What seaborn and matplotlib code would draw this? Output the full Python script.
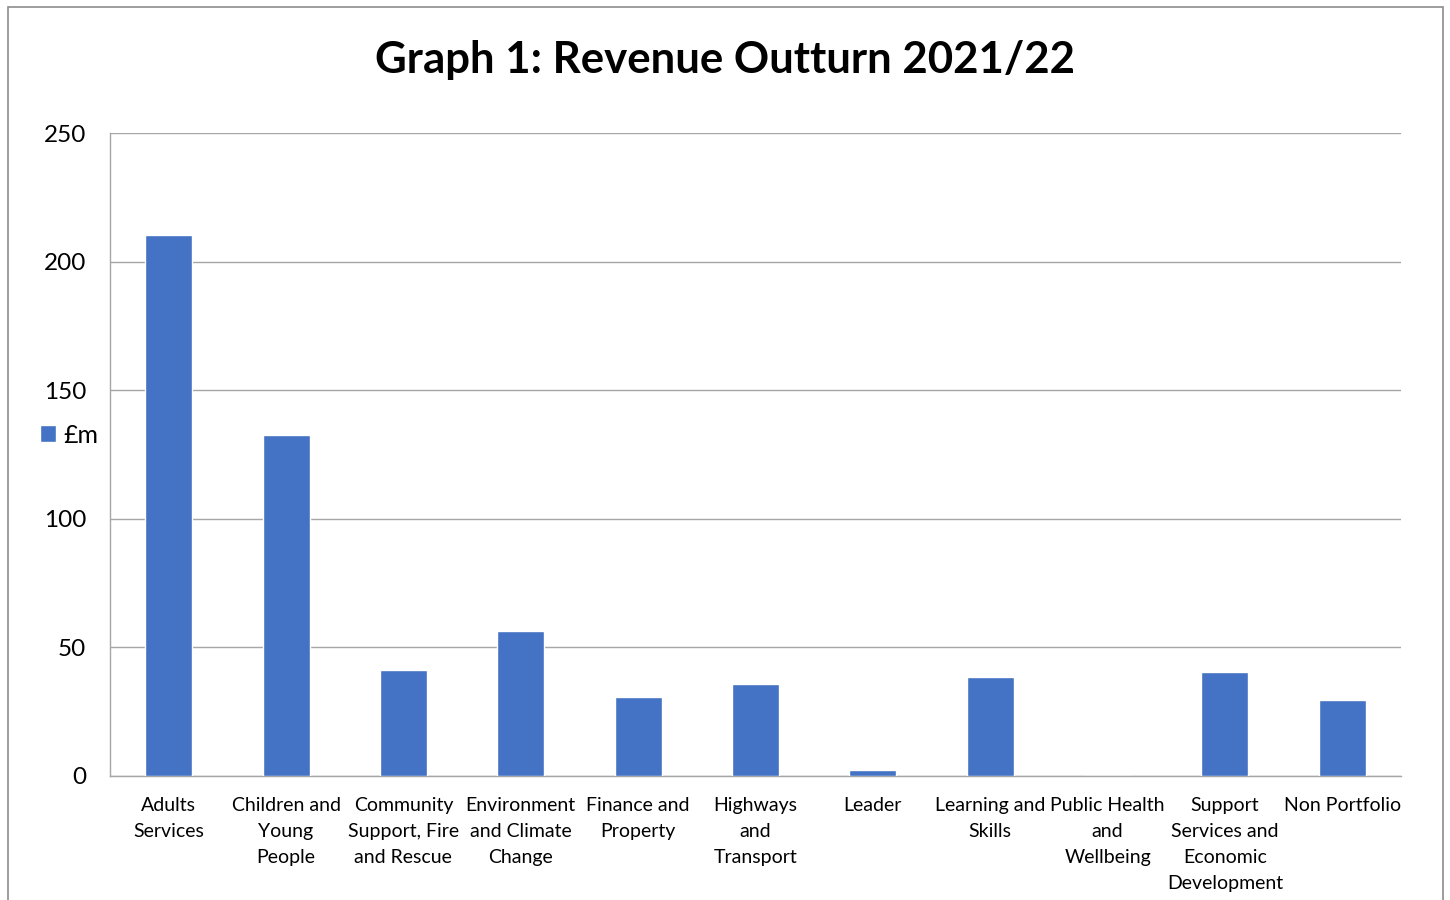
import matplotlib
matplotlib.use("Agg")
import matplotlib.pyplot as plt
import seaborn as sns
import pandas as pd
from matplotlib.patches import Rectangle

categories = ["Adults\nServices", "Children and\nYoung\nPeople", "Community\nSupport, Fire\nand Rescue",
              "Environment\nand Climate\nChange", "Finance and\nProperty", "Highways\nand\nTransport",
              "Leader", "Learning and\nSkills", "Public Health\nand\nWellbeing",
              "Support\nServices and\nEconomic\nDevelopment", "Non Portfolio"]
values = [210.2, 132.6, 41.3, 56.5, 30.8, 35.8, 2.2, 38.5, 0.0, 40.6, 29.6]
yticks = [0, 50, 100, 150, 200, 250]
series_name = "£m"
title = "Graph 1: Revenue Outturn 2021/22"

sns.set_theme(style="white")
plt.rcParams['font.family'] = ['Lato', 'DejaVu Sans']
plt.rcParams['text.color'] = 'black'
plt.rcParams['xtick.color'] = 'black'
plt.rcParams['ytick.color'] = 'black'

df = pd.DataFrame({"cat": categories, "val": values})

fig = plt.figure(figsize=(14.5, 9), dpi=100)
ax = fig.add_axes([110/1450, 1-776/900, (1401-110)/1450, (776-133)/900])
sns.barplot(data=df, x="cat", y="val", color="#4472C4", width=0.4, ax=ax,
            label=series_name, saturation=1, zorder=3)
ax.set_xlim(-0.5, len(categories)-0.5)
ax.set_ylim(0, 250)
ax.set_yticks(yticks)
ax.set_yticklabels([str(t) for t in yticks], fontsize=17.5)
ax.set_xlabel("")
ax.set_ylabel("")
ax.tick_params(axis='x', labelsize=14, length=0, pad=15, labelcolor='black')
ax.tick_params(axis='y', length=0, pad=17, labelcolor='black')
for lbl in ax.get_xticklabels():
    lbl.set_linespacing(1.64)
ax.grid(axis='y', color='#A6A6A6', linewidth=1, zorder=0)
for s in ['top', 'right']:
    ax.spines[s].set_visible(False)
ax.spines['left'].set_color('#A6A6A6')
ax.spines['bottom'].set_color('#A6A6A6')
ax.spines['left'].set_linewidth(1)
ax.spines['bottom'].set_linewidth(1)
if ax.get_legend():
    ax.get_legend().remove()
h, l = ax.get_legend_handles_labels()
fig.legend(h, l, loc='center left', bbox_to_anchor=(0.012, 1-435/900), frameon=False,
           fontsize=18, handlelength=0.65, handleheight=0.65, handletextpad=0.3,
           labelcolor='black')

fig.text(0.5, 1-60/900, title, ha='center', va='center', fontsize=31.5, fontweight='bold',
         color='black')

fig.patches.append(Rectangle((8/1450, -0.1), (1443-8)/1450, 1.1-7/900, transform=fig.transFigure,
                             fill=False, edgecolor='#8C8C8C', linewidth=1.2))
fig.savefig("out.png", dpi=100)
